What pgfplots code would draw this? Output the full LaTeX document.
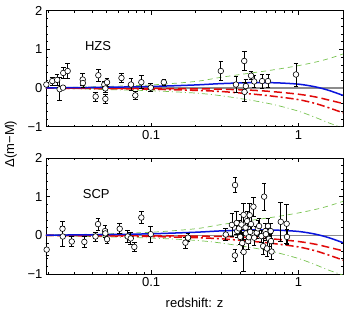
\documentclass[border=0pt]{standalone}
\usepackage{fontspec}
\setmainfont{Liberation Sans}
\usepackage{pgfplots}
\pgfplotsset{compat=1.18}
\usepackage{pgfplotstable}

\definecolor{cblue}{RGB}{10,20,220}
\definecolor{cred}{RGB}{225,10,10}
\definecolor{cgreen}{RGB}{120,195,80}
\definecolor{czero}{RGB}{140,140,140}

\pgfplotstableread{
z y e
0.0195 0.09 0.05
0.0214 0.18 0.10
0.0231 0.21 0.15
0.0240 -0.03 0.30
0.0253 0.01 0.05
0.0254 0.39 0.15
0.0272 0.44 0.20
0.0344 0.22 0.15
0.0345 0.13 0.10
0.0421 -0.22 0.12
0.0439 0.33 0.15
0.0482 0.09 0.08
0.0490 -0.01 0.10
0.0490 -0.28 0.12
0.0503 0.15 0.10
0.0630 0.26 0.12
0.0731 0.09 0.15
0.0782 -0.19 0.10
0.0859 0.15 0.17
0.0995 0.01 0.10
0.1220 0.15 0.08
0.297 0.44 0.25
0.376 0.09 0.20
0.428 0.70 0.25
0.430 -0.10 0.25
0.439 0.05 0.17
0.476 0.32 0.10
0.500 0.17 0.15
0.566 0.18 0.18
0.620 0.18 0.17
0.960 0.35 0.30
}\hzsdata

\pgfplotstableread{
z y e
0.0196 -0.37 0.15
0.0251 0.17 0.20
0.0252 -0.03 0.25
0.0290 -0.16 0.13
0.0353 -0.17 0.15
0.0420 -0.03 0.12
0.0437 0.29 0.15
0.0487 0.11 0.15
0.0490 0.05 0.10
0.0503 -0.10 0.12
0.0613 0.17 0.13
0.0694 -0.03 0.15
0.0728 -0.08 0.15
0.0770 -0.30 0.12
0.0859 0.46 0.15
0.0995 0.03 0.20
0.171 -0.19 0.15
0.178 -0.06 0.10
0.321 0.02 0.15
0.353 0.27 0.30
0.371 1.30 0.20
0.370 -0.52 0.15
0.381 0.32 0.30
0.384 0.11 0.15
0.395 0.18 0.20
0.402 -0.04 0.20
0.410 0.28 0.25
0.415 -0.20 0.25
0.424 -0.43 0.50
0.424 0.53 0.30
0.437 0.20 0.20
0.440 0.05 0.15
0.448 0.37 0.25
0.455 -0.15 0.20
0.460 -0.05 0.15
0.466 0.52 0.30
0.470 0.09 0.15
0.476 0.29 0.20
0.494 0.74 0.25
0.500 -0.06 0.20
0.520 0.07 0.15
0.530 0.18 0.20
0.540 0.24 0.20
0.560 -0.02 0.15
0.575 -0.28 0.20
0.584 1.00 0.35
0.595 0.11 0.20
0.600 0.03 0.15
0.610 -0.34 0.20
0.620 0.24 0.20
0.630 -0.09 0.20
0.647 0.11 0.20
0.650 -0.15 0.20
0.656 -0.42 0.20
0.757 0.35 0.50
0.830 0.30 0.50
0.834 -0.04 0.20
}\scpdata

\pgfplotstableread{
z b rd rdd gd gdd
0.0194 0.005 0.000 0.000 0.01 -0.01
0.03 0.010 0.000 -0.010 0.02 -0.02
0.05 0.020 -0.005 -0.015 0.04 -0.04
0.1 0.040 -0.010 -0.030 0.08 -0.07
0.2 0.080 -0.020 -0.060 0.17 -0.13
0.3 0.115 -0.030 -0.090 0.28 -0.20
0.5 0.140 -0.060 -0.160 0.40 -0.33
0.7 0.135 -0.100 -0.220 0.48 -0.44
1.0 0.100 -0.160 -0.300 0.58 -0.60
1.3 0.030 -0.230 -0.400 0.67 -0.76
1.6 -0.060 -0.310 -0.510 0.76 -0.90
2.0 -0.190 -0.400 -0.640 0.88 -1.03
}\modeldata

\begin{document}
\begin{tikzpicture}
\useasboundingbox (0pt,0pt) rectangle (346pt,309pt);

\begin{axis}[at={(46pt,182.3pt)}, anchor=south west,
    width=297pt, height=116pt, scale only axis,
    xmode=log, xmin=0.0194, xmax=2, ymin=-1, ymax=2,
    xtick={0.1,1}, xticklabels={0.1,1},
    minor xtick={0.02,0.03,0.04,0.05,0.06,0.07,0.08,0.09,0.2,0.3,0.4,0.5,0.6,0.7,0.8,0.9,2},
    ytick={-1,0,1,2}, yticklabels={−1,0,1,2},
    minor ytick={-0.8,-0.6,-0.4,-0.2,0.2,0.4,0.6,0.8,1.2,1.4,1.6,1.8},
    tick align=inside,
    major tick length=4pt, minor tick length=2pt,
    axis line style={black, line width=0.8pt},
    tick style={black, line width=0.6pt},
    ticklabel style={font=\fontsize{13}{15}\selectfont},
    clip mode=individual]
\addplot[czero, line width=1.3pt] coordinates {(0.0194,0) (2,0)};
\addplot[cgreen, line width=0.7pt, smooth, dash pattern=on 5pt off 4pt] table[x=z,y=gd] {\modeldata};
\addplot[cgreen, line width=0.7pt, smooth, dash pattern=on 6pt off 3pt on 1pt off 3pt] table[x=z,y=gdd] {\modeldata};
\addplot[cred, line width=1.5pt, smooth, dash pattern=on 8pt off 3pt on 2pt off 3pt] table[x=z,y=rdd] {\modeldata};
\addplot[cred, line width=1.5pt, smooth, dash pattern=on 8pt off 4pt] table[x=z,y=rd] {\modeldata};
\addplot[cblue, line width=1.5pt, smooth] table[x=z,y=b] {\modeldata};
\addplot[black, only marks, mark=none,
    error bars/.cd, y dir=both, y explicit,
    error bar style={line width=0.7pt, black, solid},
    error mark options={black, line width=0.7pt, mark size=2.3pt, rotate=90}]
    table[x=z,y=y,y error=e] {\hzsdata};
\addplot[only marks, mark=*, mark size=2.8pt,
    mark options={draw=black, fill=white, line width=0.6pt, solid}]
    table[x=z,y=y] {\hzsdata};
\node[font=\fontsize{13}{15}\selectfont] at (axis cs:0.0437,1.08) {HZS};
\end{axis}

\begin{axis}[at={(46pt,35pt)}, anchor=south west,
    width=297pt, height=116pt, scale only axis,
    xmode=log, xmin=0.0194, xmax=2, ymin=-1, ymax=2,
    xtick={0.1,1}, xticklabels={0.1,1},
    minor xtick={0.02,0.03,0.04,0.05,0.06,0.07,0.08,0.09,0.2,0.3,0.4,0.5,0.6,0.7,0.8,0.9,2},
    ytick={-1,0,1,2}, yticklabels={−1,0,1,2},
    minor ytick={-0.8,-0.6,-0.4,-0.2,0.2,0.4,0.6,0.8,1.2,1.4,1.6,1.8},
    tick align=inside,
    major tick length=4pt, minor tick length=2pt,
    axis line style={black, line width=0.8pt},
    tick style={black, line width=0.6pt},
    ticklabel style={font=\fontsize{13}{15}\selectfont},
    clip mode=individual]
\addplot[czero, line width=1.3pt] coordinates {(0.0194,0) (2,0)};
\addplot[cgreen, line width=0.7pt, smooth, dash pattern=on 5pt off 4pt] table[x=z,y=gd] {\modeldata};
\addplot[cgreen, line width=0.7pt, smooth, dash pattern=on 6pt off 3pt on 1pt off 3pt] table[x=z,y=gdd] {\modeldata};
\addplot[cred, line width=1.5pt, smooth, dash pattern=on 8pt off 3pt on 2pt off 3pt] table[x=z,y=rdd] {\modeldata};
\addplot[cred, line width=1.5pt, smooth, dash pattern=on 8pt off 4pt] table[x=z,y=rd] {\modeldata};
\addplot[cblue, line width=1.5pt, smooth] table[x=z,y=b] {\modeldata};
\addplot[black, only marks, mark=none,
    error bars/.cd, y dir=both, y explicit,
    error bar style={line width=0.7pt, black, solid},
    error mark options={black, line width=0.7pt, mark size=2.3pt, rotate=90}]
    table[x=z,y=y,y error=e] {\scpdata};
\addplot[only marks, mark=*, mark size=2.8pt,
    mark options={draw=black, fill=white, line width=0.6pt, solid}]
    table[x=z,y=y] {\scpdata};
\node[font=\fontsize{13}{15}\selectfont] at (axis cs:0.0425,1.07) {SCP};
\end{axis}

\node[rotate=90, anchor=base, font=\fontsize{13}{15}\selectfont] at (14pt,165pt) {Δ(m−M)};
\node[anchor=base, font=\fontsize{13}{15}\selectfont] at (194.5pt,1.5pt) {redshift: z};
\end{tikzpicture}
\end{document}
